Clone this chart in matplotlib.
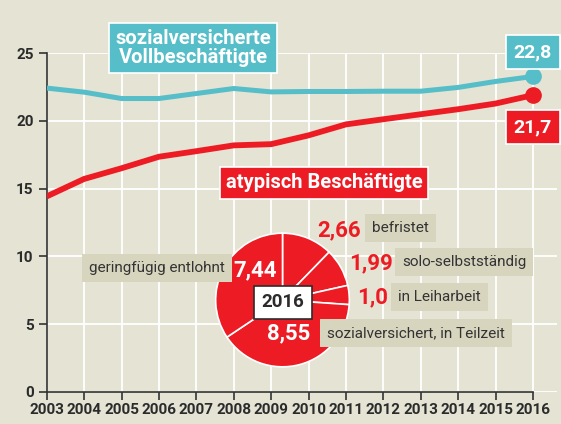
import matplotlib.pyplot as plt
import numpy as np

plt.rcParams['font.family'] = ['Roboto', 'DejaVu Sans']

# Millionen Beschäftigte
years = list(range(2003, 2017))
voll = [22.43, 22.13, 21.66, 21.66, 22.03, 22.40, 22.15, 22.18, 22.18, 22.20, 22.20, 22.48, 22.92, 23.29]
atyp = [14.43, 15.72, 16.51, 17.36, 17.77, 18.20, 18.29, 18.94, 19.75, 20.13, 20.50, 20.87, 21.29, 21.91]

# Anteile 2016 (im Uhrzeigersinn ab 12 Uhr)
pie_labels = ['befristet', 'solo-selbstständig', 'in Leiharbeit', 'sozialversichert, in Teilzeit', 'geringfügig entlohnt']
pie_values = [2.66, 1.99, 1.0, 8.55, 7.44]
pie_text = ['2,66', '1,99', '1,0', '8,55', '7,44']

BG = '#e5e3d3'
TEAL = '#55bec8'
RED = '#ed1c24'
LBOX = '#d8d5bf'
DARK = '#2b2b2b'

W, H = 561, 424
fig = plt.figure(figsize=(W / 100, H / 100), dpi=100)
fig.patch.set_facecolor(BG)


def px(x, y):
    return x / W, 1 - y / H


ax = fig.add_axes([46.7 / W, 32.2 / H, (557.3 - 46.7) / W, (391.8 - 53.3) / H])
ax.set_facecolor(BG)
ax.set_xlim(2003, 2016.65)
ax.set_ylim(0, 25)

ax.set_yticks([0, 5, 10, 15, 20, 25])
ax.set_xticks(years)
ax.grid(True, color='white', linewidth=1.3)
ax.set_axisbelow(True)
for s in ['top', 'right']:
    ax.spines[s].set_visible(False)
ax.spines['bottom'].set_bounds(2003, 2016)
ax.spines['left'].set_bounds(0, 25)
for s in ['bottom', 'left']:
    ax.spines[s].set_color('#333333')
    ax.spines[s].set_linewidth(1.2)
ax.tick_params(axis='both', colors='#333333', width=1.2, length=6,
               labelsize=11, labelcolor=DARK)
ax.tick_params(axis='x', pad=2)
for lab in ax.get_xticklabels() + ax.get_yticklabels():
    lab.set_fontweight('bold')

ax.plot(years, voll, color=TEAL, linewidth=3.6, solid_capstyle='butt', zorder=3)
ax.plot(years, atyp, color=RED, linewidth=4.2, solid_capstyle='butt', zorder=3)
ax.plot(years[-1], voll[-1], 'o', color=TEAL, markersize=11, zorder=4, clip_on=False)
ax.plot(years[-1], atyp[-1], 'o', color=RED, markersize=11, zorder=4, clip_on=False)

# Endwert-Boxen
fig.text(*px(533, 52), '22,8', ha='center', va='center', color='white', fontsize=14,
         fontweight='bold', bbox=dict(boxstyle='square,pad=0.4', fc=TEAL, ec='white', lw=1.2))
fig.text(*px(533, 127), '21,7', ha='center', va='center', color='white', fontsize=14,
         fontweight='bold', bbox=dict(boxstyle='square,pad=0.4', fc=RED, ec='white', lw=1.2))

# Serientitel
fig.text(*px(193, 48), 'sozialversicherte\nVollbeschäftigte', ha='center', va='center',
         color='white', fontsize=14.5, fontweight='bold', linespacing=1.0,
         bbox=dict(boxstyle='square,pad=0.3', fc=TEAL, ec='white', lw=1.2))
fig.text(*px(324, 183), 'atypisch Beschäftigte', ha='center', va='center',
         color='white', fontsize=14.5, fontweight='bold',
         bbox=dict(boxstyle='square,pad=0.3', fc=RED, ec='white', lw=1.2))

# Torte 2016
pax = fig.add_axes([215 / W, 1 - 368 / H, 135 / W, 136 / H])
pax.pie(pie_values, startangle=90, counterclock=False, colors=[RED] * 5,
        wedgeprops=dict(edgecolor='white', linewidth=1.2))
pax.set_xlim(-1.01, 1.01)
pax.set_ylim(-1.01, 1.01)
pax.set_aspect('equal')
pax.axis('off')

fig.text(*px(283, 302), '2016', ha='center', va='center', color=DARK, fontsize=13.5,
         fontweight='bold', bbox=dict(boxstyle='square,pad=0.4', fc='white', ec=DARK, lw=1.2))

# Werte und Beschriftungen
val_pos = [(339, 230), (371, 263), (373, 297), (289, 333), (255, 270)]
val_col = [RED, RED, RED, 'white', 'white']
lab_pos = [(372, 228), (402, 262), (398, 297), (327, 333), (225, 268)]
lab_ha = ['left', 'left', 'left', 'left', 'right']
for i in range(len(pie_values)):
    fig.text(*px(*val_pos[i]), pie_text[i], ha='center', va='center', color=val_col[i],
             fontsize=16, fontweight='bold')
    fig.text(*px(*lab_pos[i]), pie_labels[i], ha=lab_ha[i], va='center', color='#333333',
             fontsize=11, bbox=dict(boxstyle='square,pad=0.45', fc=LBOX, ec='none'))

fig.savefig('out.png', dpi=100, facecolor=BG)
